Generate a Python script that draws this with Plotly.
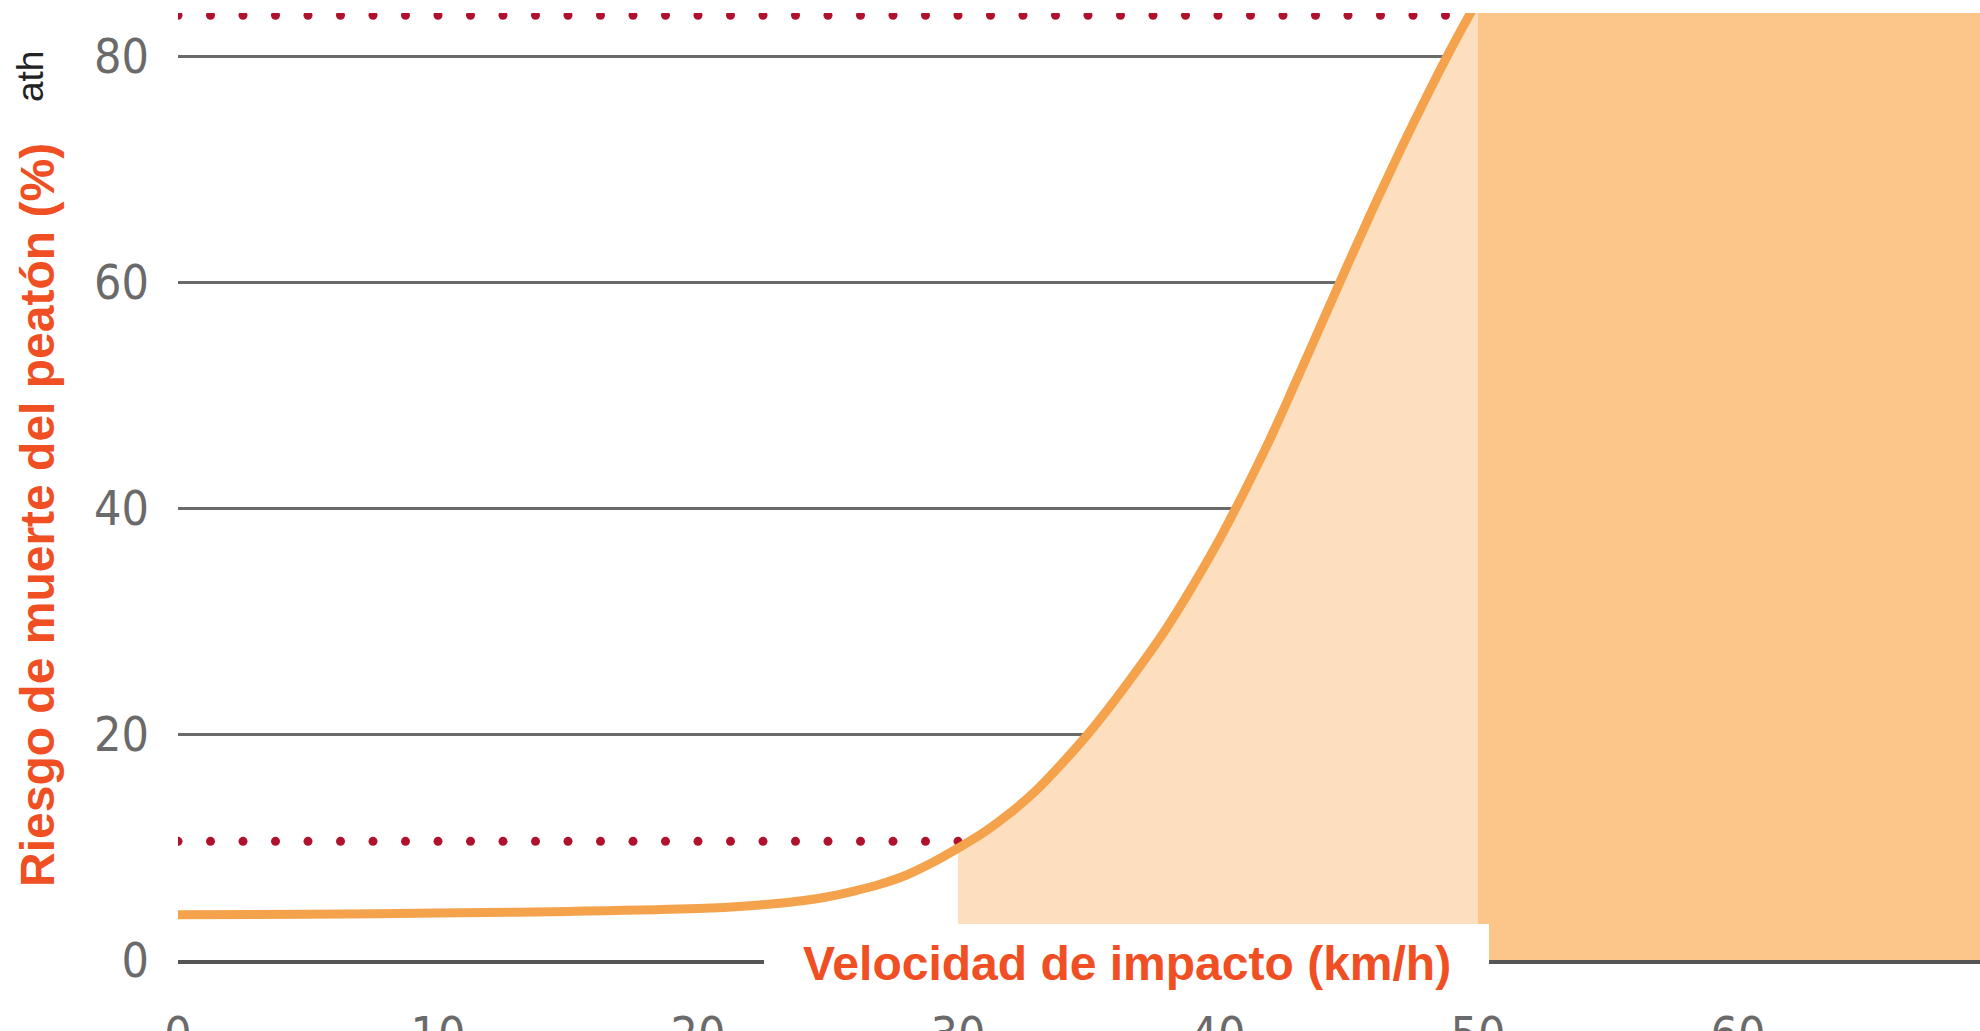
import numpy as np
import plotly.graph_objects as go

# Impact speed (km/h) and pedestrian fatality risk (%) along the curve
speed = [0, 5, 10, 15, 20, 22, 23, 24, 25, 26, 27, 28, 29, 30, 31, 32, 33, 34, 35,
         36, 37, 38, 39, 40, 41, 42, 43, 44, 45, 46, 47, 48, 49, 50]
risk = [4.0, 4.05, 4.15, 4.3, 4.55, 4.8, 5.0, 5.25, 5.6, 6.1, 6.7, 7.5, 8.6, 9.9, 11.3, 13.0, 15.0, 17.4, 20.0,
        22.9, 26.0, 29.3, 33.0, 37.0, 41.4, 46.1, 51.2, 56.4, 61.6, 66.7, 71.6, 76.3, 80.8, 85.0]

# Reference risk levels (dotted lines) and the speeds where they end
ref_levels = [10.5, 83.6]
ref_ends = [30, 48.75]

# Highlighted speed zones
light_zone = [30, 50]
dark_zone_start = 50

x_ticks = [0, 10, 20, 30, 40, 50, 60]
y_ticks = [0, 20, 40, 60, 80]

y_title = "Riesgo de muerte del peatón (%)"
x_title = "Velocidad de impacto (km/h)"
leftover_label = "ath"

W, H = 1980, 1031
L, R, T, B = 178, 0, 13, 71
PX_PER_KMH = 26.0
PX_PER_PCT = 11.3

x_max = (W - L - R) / PX_PER_KMH
y_max = (H - T - B) / PX_PER_PCT

ORANGE = "#F4A24B"
LIGHT = "#FDDFBF"
DARK = "#FCC68B"
DOT = "#B0112C"
TITLE = "#F04E23"


def px_x(px):
    return (px - L) / (W - L - R)


def px_y(py):
    return (H - B - py) / (H - T - B)


fig = go.Figure()

# light zone: area under the curve between 30 and 50 km/h
zx = [s for s in speed if light_zone[0] <= s <= light_zone[1]]
zy = [r for s, r in zip(speed, risk) if light_zone[0] <= s <= light_zone[1]]
fig.add_trace(go.Scatter(
    x=zx, y=zy, mode="lines", line=dict(width=0, shape="spline", color=LIGHT),
    fill="tozeroy", fillcolor=LIGHT, hoverinfo="skip", showlegend=False,
))

# dotted reference lines
for lvl, end in zip(ref_levels, ref_ends):
    dx = np.arange(0, end + 1e-6, 1.25)
    fig.add_trace(go.Scatter(
        x=dx, y=[lvl] * len(dx), mode="markers",
        marker=dict(size=9, color=DOT, line=dict(width=0)),
        hoverinfo="skip", showlegend=False,
    ))

# fatality risk curve
fig.add_trace(go.Scatter(
    x=speed, y=risk, mode="lines",
    line=dict(color=ORANGE, width=9, shape="spline"),
    hoverinfo="skip", showlegend=False,
))

shapes = [
    dict(type="rect", xref="x", yref="y", x0=dark_zone_start, x1=x_max + 5,
         y0=0, y1=y_max + 5, fillcolor=DARK, line=dict(width=0), layer="between"),
    dict(type="rect", xref="paper", yref="paper", x0=px_x(764), x1=px_x(1489),
         y0=px_y(1000), y1=px_y(924), fillcolor="white", line=dict(width=0), layer="above"),
]

annotations = [
    dict(text="<b>" + x_title + "</b>", xref="paper", yref="paper",
         x=px_x(1127), y=px_y(963), xanchor="center", yanchor="middle",
         showarrow=False, font=dict(family="Liberation Sans", size=48, color=TITLE)),
    dict(text="<b>" + y_title + "</b>", xref="paper", yref="paper",
         x=px_x(37), y=px_y(515), xanchor="center", yanchor="middle", textangle=-90,
         showarrow=False, font=dict(family="Liberation Sans", size=48, color=TITLE)),
    dict(text=leftover_label, xref="paper", yref="paper",
         x=px_x(30), y=px_y(77), xanchor="center", yanchor="middle", textangle=-90,
         showarrow=False, font=dict(family="Liberation Sans", size=37, color="#222222")),
]

tick_font = dict(family="'DejaVu Sans Condensed', 'Roboto Condensed', Roboto, sans-serif",
                 size=48, color="#6a6a6a", weight=300)

fig.update_layout(
    width=W, height=H,
    margin=dict(l=L, r=R, t=T, b=B, pad=0),
    paper_bgcolor="white", plot_bgcolor="white",
    showlegend=False,
    shapes=shapes,
    annotations=annotations,
    xaxis=dict(
        range=[0, x_max], tickvals=x_ticks, ticktext=[str(v) for v in x_ticks],
        showgrid=False, zeroline=False, ticks="", tickfont=tick_font,
        ticklabelstandoff=29, automargin=False,
        showline=True, linecolor="#555555", linewidth=4, fixedrange=True,
    ),
    yaxis=dict(
        range=[0, y_max], tickvals=y_ticks, ticktext=[str(v) for v in y_ticks],
        showgrid=True, gridcolor="#6a6a6a", gridwidth=3, zeroline=False,
        ticks="", tickfont=tick_font, ticklabelstandoff=28, automargin=False,
        showline=False, fixedrange=True,
    ),
)

fig.write_html("out.html")
